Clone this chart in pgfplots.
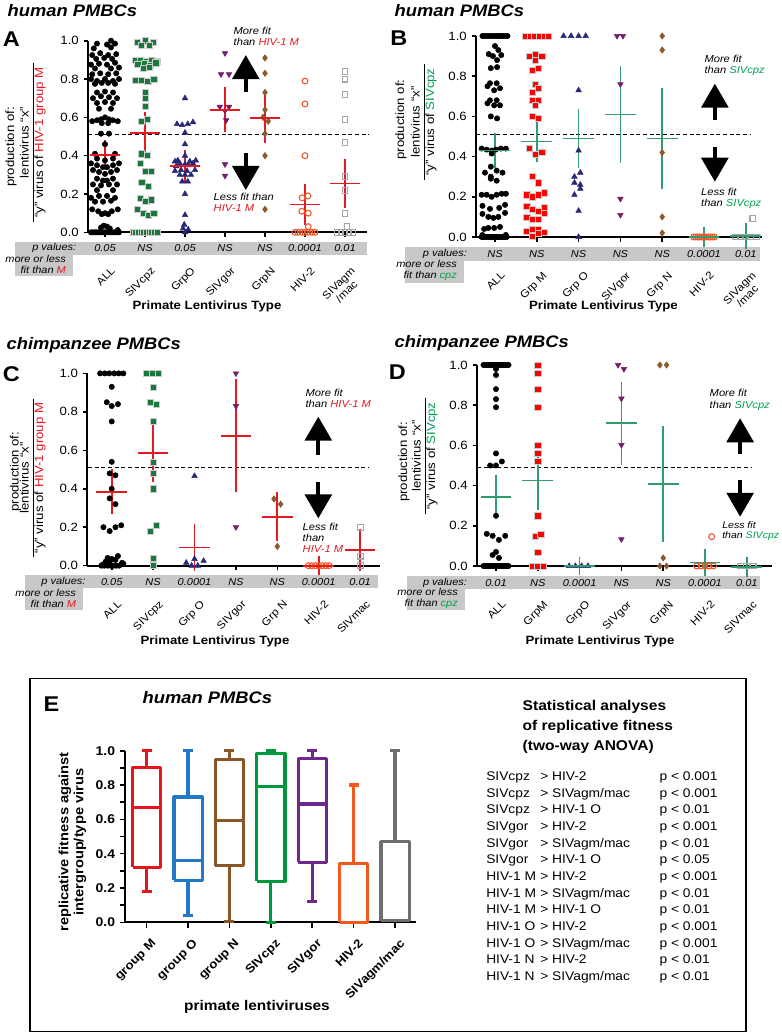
\documentclass[border=0pt]{standalone}
\usepackage{fontspec}
\setmainfont{Liberation Sans}[FakeStretch=1.1]
\usepackage{pgfplots}
\pgfplotsset{compat=1.18}
\usetikzlibrary{arrows.meta}

\definecolor{hred}{RGB}{230,25,35}
\definecolor{cpzgreen}{RGB}{0,160,80}
\definecolor{sqgreen}{RGB}{25,120,60}
\definecolor{navy}{RGB}{40,40,120}
\definecolor{purp}{RGB}{115,30,105}
\definecolor{brn}{RGB}{140,90,45}
\definecolor{oran}{RGB}{240,85,40}
\definecolor{mgreen}{RGB}{50,155,110}
\definecolor{band}{RGB}{200,200,200}
\definecolor{bred}{RGB}{230,20,30}
\definecolor{bblue}{RGB}{35,120,200}
\definecolor{bbrown}{RGB}{140,85,40}
\definecolor{bgreen}{RGB}{0,150,60}
\definecolor{bpurple}{RGB}{110,40,140}
\definecolor{borange}{RGB}{240,90,30}
\definecolor{bgray}{RGB}{110,110,110}

\tikzset{bigarrow/.style={line width=2.8pt, -{Triangle[width=20pt,length=18pt]}}}
\pgfplotsset{
  panel/.style={
    clip=false, anchor=origin,
    axis lines=left, axis line style={-, line width=1.5pt},
    ymin=0, ymax=1, xtick={0,1,2,3,4,5,6}, ytick={0,0.2,0.4,0.6,0.8,1.0},
    tick align=outside, major tick length=3.5pt,
    tick style={black, line width=1.2pt},
    /pgf/number format/fixed, /pgf/number format/fixed zerofill,
    /pgf/number format/precision=1, /pgf/number format/assume math mode=true,
    yticklabel style={font=\fontsize{9}{10}\selectfont},
    xticklabel style={font=\fontsize{8}{8.5}\selectfont, align=center, xshift=4pt, yshift=-17pt, rotate=45, anchor=north east},
  },
  dots/.style={only marks, mark=*, mark size=2pt, mark options={fill=black, draw=black}},
  gsq/.style={only marks, mark=square*, mark size=2.3pt, mark options={fill=sqgreen, draw=gray!40, line width=0.4pt}},
  rsq/.style={only marks, mark=square*, mark size=2.3pt, mark options={fill=red, draw=gray!40, line width=0.4pt}},
  tri/.style={only marks, mark=triangle*, mark size=2.4pt, mark options={fill=navy, draw=navy}},
  dtri/.style={only marks, mark=triangle*, mark size=2.4pt, mark options={fill=purp, draw=purp, rotate=180}},
  dia/.style={only marks, mark=diamond*, mark size=2.4pt, mark options={fill=brn, draw=brn}},
  ocirc/.style={only marks, mark=o, mark size=2.2pt, mark options={draw=oran, line width=0.8pt}},
  osq/.style={only marks, mark=square, mark size=2.2pt, mark options={draw=gray!70, line width=0.8pt}},
  meanbar/.style={only marks, mark=-, mark size=11.5pt, mark options={#1, line width=1.3pt},
    error bars/.cd, y dir=both, y explicit, error bar style={#1, line width=1.3pt},
    error mark=-, error mark options={#1, line width=1.3pt, mark size=7pt}},
  dline/.style={black, line width=0.8pt, dash pattern=on 3pt off 2pt},
  bx/.style={#1, line width=2.4pt, line join=round, line cap=butt, mark=none},
}
\newcommand{\annfont}{\itshape\fontsize{7.6}{8.4}\selectfont}
\newcommand{\pfont}{\itshape\fontsize{7.5}{8.5}\selectfont}

\begin{document}
\begin{tikzpicture}
\useasboundingbox (0,0) rectangle (586.5pt,774.75pt);

% ---------------- titles & letters ----------------
\node[anchor=west, font=\bfseries\itshape\fontsize{12.5}{14}\selectfont] at (2.25pt,766.9pt) {human PMBCs};
\node[font=\bfseries\fontsize{16}{18}\selectfont] at (8.6pt,745.5pt) {A};
\node[anchor=west, font=\bfseries\itshape\fontsize{12.5}{14}\selectfont] at (292.5pt,766.9pt) {human PMBCs};
\node[font=\bfseries\fontsize{16}{18}\selectfont] at (299.2pt,745.9pt) {B};
\node[anchor=west, font=\bfseries\itshape\fontsize{12.5}{14}\selectfont] at (1.5pt,516pt) {chimpanzee PMBCs};
\node[font=\bfseries\fontsize{16}{18}\selectfont] at (8.6pt,493.9pt) {C};
\node[anchor=west, font=\bfseries\itshape\fontsize{12.5}{14}\selectfont] at (292.5pt,517.3pt) {chimpanzee PMBCs};
\node[font=\bfseries\fontsize{16}{18}\selectfont] at (298.1pt,495.4pt) {D};

% x labels
\node[font=\bfseries\fontsize{9}{10}\selectfont] at (155.25pt,544.7pt) {Primate Lentivirus Type};
\node[font=\bfseries\fontsize{9}{10}\selectfont] at (452.6pt,544.7pt) {Primate Lentivirus Type};
\node[font=\bfseries\fontsize{9}{10}\selectfont] at (161.25pt,293.5pt) {Primate Lentivirus Type};
\node[font=\bfseries\fontsize{9}{10}\selectfont] at (450pt,293.5pt) {Primate Lentivirus Type};

% y labels
\node[rotate=90, font=\fontsize{9}{10}\selectfont] at (8.25pt,664.5pt) {production of:};
\node[rotate=90, font=\fontsize{9}{10.5}\selectfont, inner sep=0pt] at (24.75pt,667.9pt) {\begin{tabular}{@{\hspace{3pt}}c@{\hspace{3pt}}}lentivirus ``x''\\\hline ``y'' virus of \textcolor{hred}{HIV-1 group M}\end{tabular}};
\node[rotate=90, font=\fontsize{9}{10}\selectfont] at (300.75pt,685.1pt) {production of:};
\node[rotate=90, font=\fontsize{9}{10.5}\selectfont, inner sep=0pt] at (318pt,683.25pt) {\begin{tabular}{@{\hspace{3pt}}c@{\hspace{3pt}}}lentivirus ``x''\\\hline ``y'' virus of \textcolor{cpzgreen}{SIVcpz}\end{tabular}};
\node[rotate=90, font=\fontsize{9}{10}\selectfont] at (11.6pt,421pt) {production of:};
\node[rotate=90, font=\fontsize{9}{10.5}\selectfont, inner sep=0pt] at (24.75pt,416.25pt) {\begin{tabular}{@{\hspace{3pt}}c@{\hspace{3pt}}}lentivirus ``x''\\\hline ``y'' virus of \textcolor{hred}{HIV-1 group M}\end{tabular}};
\node[rotate=90, font=\fontsize{9}{10}\selectfont] at (303pt,428.25pt) {production of:};
\node[rotate=90, font=\fontsize{9}{10.5}\selectfont, inner sep=0pt] at (318.75pt,432.75pt) {\begin{tabular}{@{\hspace{3pt}}c@{\hspace{3pt}}}lentivirus ``x''\\\hline ``y'' virus of \textcolor{cpzgreen}{SIVcpz}\end{tabular}};

% ================= Panel A =================
\begin{axis}[panel, at={(78.75pt,600.5pt)}, x=30pt, y=143.7pt, xmin=-0.42, xmax=6.54,
  xticklabels={ALL, SIVcpz, GrpO, SIVgor, GrpN, HIV-2, {SIVagm\\/mac}}]
\fill[band] (axis cs:-2.25,-0.049) rectangle (axis cs:6.55,-0.118);
\fill[band] (axis cs:-2.25,-0.118) rectangle (axis cs:-0.8,-0.228);
\node[anchor=east, font=\pfont] at (axis cs:-0.6,-0.0835) {p values:};
\node[anchor=east, align=right, font=\itshape\fontsize{7.5}{8.2}\selectfont] at (axis cs:-0.86,-0.169) {more or less\\fit than \textcolor{hred}{M}};
\node[font=\pfont] at (axis cs:0,-0.0835) {0.05};
\node[font=\pfont] at (axis cs:1,-0.0835) {NS};
\node[font=\pfont] at (axis cs:2,-0.0835) {0.05};
\node[font=\pfont] at (axis cs:3,-0.0835) {NS};
\node[font=\pfont] at (axis cs:4,-0.0835) {NS};
\node[font=\pfont] at (axis cs:5,-0.0835) {0.0001};
\node[font=\pfont] at (axis cs:6,-0.0835) {0.01};
\addplot[dots] coordinates {
(0.15,1.0)(-0.2,0.985)(0.05,0.98)(0.25,0.985)(-0.28,0.96)(0.15,0.965)
(-0.32,0.925)(-0.12,0.935)(0.08,0.925)(0.28,0.93)(-0.22,0.905)(-0.02,0.91)(0.18,0.905)
(-0.35,0.875)(-0.15,0.88)(0.05,0.875)(0.25,0.885)(-0.25,0.855)(0.15,0.855)(0.35,0.86)
(-0.32,0.825)(-0.12,0.83)(0.08,0.825)(0.28,0.83)(-0.35,0.80)(-0.2,0.79)(0.0,0.80)(0.2,0.79)(0.35,0.80)
(-0.25,0.775)(-0.08,0.78)(0.08,0.78)(0.25,0.775)(-0.2,0.73)(0.0,0.735)(0.2,0.73)
(-0.3,0.70)(-0.1,0.71)(0.1,0.705)(0.3,0.70)(-0.2,0.675)(0.0,0.68)(0.2,0.675)(-0.15,0.645)(0.15,0.645)
(-0.32,0.58)(-0.2,0.585)(-0.1,0.59)(0.0,0.60)(0.1,0.59)(0.2,0.585)(0.32,0.58)(-0.08,0.57)(0.08,0.57)
(-0.1,0.515)(0.1,0.515)(0.0,0.46)(-0.25,0.41)(0.25,0.41)(-0.2,0.385)(0.0,0.375)(0.2,0.385)
(-0.35,0.36)(-0.2,0.35)(-0.05,0.34)(0.05,0.34)(0.2,0.35)(0.35,0.36)
(-0.3,0.325)(-0.15,0.315)(0.0,0.305)(0.15,0.315)(0.3,0.325)
(-0.2,0.28)(0.2,0.28)(-0.05,0.27)(0.05,0.27)(-0.3,0.25)(-0.1,0.245)(0.1,0.25)(0.3,0.25)
(-0.2,0.22)(0.2,0.22)(-0.35,0.18)(-0.15,0.19)(0.05,0.19)(0.25,0.18)(-0.25,0.16)(-0.05,0.16)(0.15,0.165)
(-0.32,0.12)(-0.17,0.11)(0.0,0.10)(0.17,0.11)(0.32,0.12)(-0.08,0.095)(0.08,0.095)
(-0.1,0.025)(-0.03,0.035)(0.05,0.03)(0.12,0.02)
(-0.35,0)(-0.3,0)(-0.25,0)(-0.2,0)(-0.15,0)(-0.1,0)(-0.05,0)(0,0)(0.05,0)(0.1,0)(0.15,0)(0.2,0)(0.25,0)(0.3,0)(0.35,0)(0.32,0.012)
};
\addplot[gsq] coordinates {
(1.0,1.0)(0.8,0.99)(1.2,0.99)(0.9,0.975)(1.1,0.975)
(0.75,0.90)(0.88,0.90)(1.03,0.89)(1.17,0.90)(1.3,0.895)(0.82,0.875)(0.98,0.88)(1.13,0.87)(1.27,0.885)
(0.95,0.855)(1.1,0.86)(0.75,0.795)(0.9,0.795)(1.07,0.79)(1.22,0.80)
(1.0,0.73)(1.0,0.70)(1.0,0.66)(0.9,0.58)(1.05,0.59)(0.9,0.41)(1.05,0.40)
(0.88,0.36)(1.0,0.32)(1.15,0.32)(0.92,0.26)(1.08,0.24)(0.88,0.18)(1.02,0.16)(1.15,0.17)
(0.8,0.12)(0.95,0.10)(1.08,0.09)(1.22,0.10)
(0.7,0)(0.767,0)(0.833,0)(0.9,0)(0.967,0)(1.033,0)(1.1,0)(1.167,0)(1.233,0)(1.3,0)
};
\addplot[tri] coordinates {
(2,0.70)(1.8,0.565)(1.93,0.56)(2.07,0.565)(2.2,0.575)(2,0.52)(2,0.46)(2,0.40)
(1.75,0.37)(1.82,0.375)(2.12,0.37)(2.27,0.375)(1.87,0.36)(2,0.355)(2.2,0.36)(1.78,0.345)(2.08,0.35)
(1.75,0.32)(1.9,0.325)(2.05,0.32)(2.25,0.325)(1.87,0.30)(2,0.30)(2.15,0.30)(1.93,0.265)(2.07,0.265)
(2,0.20)(2,0.09)(1.98,0.04)(1.95,0.02)(2.08,0.015)(2,0.0)
};
\addplot[dtri] coordinates {(3,0.935)(2.9,0.825)(3.1,0.825)(2.87,0.655)(3.1,0.655)(3,0.635)(3.03,0.585)(3,0.355)(3,0.295)};
\addplot[dia] coordinates {(4,0.91)(4,0.83)(4,0.73)(4,0.64)(3.95,0.60)(4.08,0.58)(4,0.515)(4,0.40)(4,0.12)};
\addplot[ocirc] coordinates {(5,0.79)(5,0.67)(5,0.40)(4.93,0.18)(5.07,0.19)(4.92,0.11)(5.08,0.10)(5.08,0.03)
(4.75,0)(4.83,0)(4.92,0)(5,0)(5.08,0)(5.17,0)(5.25,0)};
\addplot[osq] coordinates {(6,0.84)(6,0.80)(6,0.72)(6,0.59)(6,0.47)(6,0.29)(6,0.22)(6,0.10)(6.05,0.03)
(5.8,0)(5.9,0)(6,0)(6.1,0)(6.2,0)};
\addplot[dline] coordinates {(-0.42,0.513)(6.6,0.513)};
\addplot[meanbar=hred] coordinates {(0,0.405)+-(0,0.0275)(1,0.52)+-(0,0.057)(2,0.345)+-(0,0.035)(3,0.64)+-(0,0.07)(4,0.595)+-(0,0.078)(5,0.145)+-(0,0.06)(6,0.255)+-(0,0.08)};
\draw[bigarrow] (axis cs:3.52,0.734) -- (axis cs:3.52,0.925);
\draw[bigarrow] (axis cs:3.52,0.412) -- (axis cs:3.52,0.221);
\node[anchor=west, align=left, font=\annfont] at (axis cs:3.1,1.023) {More fit\\than \textcolor{hred}{HIV-1 M}};
\node[anchor=west, align=left, font=\annfont] at (axis cs:2.6,0.155) {Less fit than\\\textcolor{hred}{HIV-1 M}};
\end{axis}

% ================= Panel B =================
\begin{axis}[panel, at={(371.25pt,597pt)}, x=31.35pt, y=150.75pt, xmin=-0.45, xmax=6.38,
  xticklabels={ALL, Grp M, Grp O, SIVgor, Grp N, HIV-2, {SIVagm\\/mac}}]
\fill[band] (axis cs:-2.15,-0.048) rectangle (axis cs:6.34,-0.118);
\fill[band] (axis cs:-2.15,-0.118) rectangle (axis cs:-0.74,-0.229);
\node[anchor=east, font=\pfont] at (axis cs:-0.56,-0.083) {p values:};
\node[anchor=east, align=right, font=\itshape\fontsize{7.5}{8.2}\selectfont] at (axis cs:-0.8,-0.166) {more or less\\fit than \textcolor{cpzgreen}{cpz}};
\node[font=\pfont] at (axis cs:0,-0.083) {NS};
\node[font=\pfont] at (axis cs:1,-0.083) {NS};
\node[font=\pfont] at (axis cs:2,-0.083) {NS};
\node[font=\pfont] at (axis cs:3,-0.083) {NS};
\node[font=\pfont] at (axis cs:4,-0.083) {NS};
\node[font=\pfont] at (axis cs:5,-0.083) {0.0001};
\node[font=\pfont] at (axis cs:6,-0.083) {0.01};
\addplot[dots] coordinates {
(-0.3,1)(-0.25,1)(-0.2,1)(-0.15,1)(-0.1,1)(-0.05,1)(0,1)(0.05,1)(0.1,1)(0.15,1)(0.2,1)(0.25,1)(0.3,1)
(0.0,0.95)(0.08,0.93)(-0.15,0.91)(-0.05,0.90)(0.15,0.905)(0.05,0.88)(-0.1,0.84)(0.05,0.845)
(-0.12,0.765)(0.04,0.765)(-0.18,0.75)(0.12,0.74)(-0.02,0.73)
(-0.12,0.68)(0.04,0.68)(-0.18,0.665)(-0.02,0.655)(0.12,0.655)(-0.1,0.60)(0.05,0.59)
(-0.32,0.44)(-0.2,0.435)(-0.08,0.43)(0.02,0.435)(0.14,0.44)(0.26,0.44)(-0.08,0.415)
(-0.1,0.35)(-0.24,0.32)(0.04,0.33)(0.18,0.32)(-0.1,0.30)(-0.1,0.29)(0.04,0.28)
(-0.32,0.21)(-0.2,0.21)(-0.08,0.20)(0.04,0.21)(0.16,0.215)(0.26,0.215)
(-0.3,0.155)(-0.12,0.14)(0.1,0.145)(0.24,0.16)
(-0.3,0.115)(-0.16,0.10)(-0.04,0.095)(0.08,0.10)(0.24,0.12)
(-0.26,0.04)(-0.16,0.045)(-0.02,0.045)(0.12,0.05)
(-0.32,0)(-0.28,0)(-0.24,0)(-0.2,0)(-0.16,0)(-0.12,0)(-0.08,0)(-0.04,0)(0,0)(0.04,0)(0.08,0)(0.12,0)(0.16,0)(0.2,0)(0.24,0)(0.28,0)(-0.3,0.01)(0.26,0.01)
};
\addplot[rsq] coordinates {
(0.73,1)(0.84,1)(0.95,1)(1.06,1)(1.17,1)(1.27,1)
(0.82,0.90)(0.97,0.91)(1.12,0.90)(0.97,0.88)(0.9,0.83)(1.04,0.84)(0.97,0.76)(0.9,0.72)(1.04,0.74)
(0.9,0.68)(1.04,0.68)(0.97,0.655)(0.9,0.60)(1.04,0.59)(0.82,0.44)(1.12,0.42)(0.97,0.41)(0.9,0.30)(1.04,0.27)
(0.76,0.21)(0.9,0.20)(1.04,0.21)(1.18,0.22)(0.76,0.155)(0.9,0.14)(1.04,0.13)(1.18,0.15)
(0.76,0.10)(0.9,0.09)(1.04,0.09)(1.18,0.12)(0.76,0.03)(0.9,0.04)(1.04,0.04)(1.18,0.025)(0.9,0.005)(1.04,0.02)
};
\addplot[tri] coordinates {(1.64,1)(1.82,1)(2,1)(2.17,1)(2,0.73)(2,0.43)(2.04,0.32)(1.9,0.30)(1.9,0.27)(2.04,0.26)(2.04,0.24)(1.9,0.21)(2,0.13)(2,0.0)};
\addplot[dtri] coordinates {(2.92,1)(3.06,1)(3,0.76)(3,0.19)(3,0.11)};
\addplot[dia] coordinates {(4,1)(4,0.93)(4,0.42)(4,0.10)(4,0.02)};
\addplot[ocirc] coordinates {(4.75,0)(4.8,0)(4.85,0)(4.9,0)(4.95,0)(5,0)(5.05,0)(5.1,0)(5.15,0)(5.2,0)(5.25,0)};
\addplot[osq] coordinates {(6.17,0.093)(5.75,0)(5.88,0)(6,0)(6.12,0)(6.25,0)};
\addplot[dline] coordinates {(-0.45,0.512)(6.1,0.512)};
\addplot[meanbar=mgreen] coordinates {(0,0.43)+-(0,0.04)(1,0.475)+-(0,0.055)(2,0.49)+-(0,0.1)(3,0.61)+-(0,0.195)(4,0.49)+-(0,0.205)(5,0.0)+-(0,0.003)(6,0.005)+-(0,0.02)};
\draw[bigarrow] (axis cs:5.26,0.581) -- (axis cs:5.26,0.763);
\draw[bigarrow] (axis cs:5.26,0.449) -- (axis cs:5.26,0.275);
\node[anchor=west, align=left, font=\annfont] at (axis cs:4.9,0.853) {More fit\\than \textcolor{cpzgreen}{SIVcpz}};
\node[anchor=west, align=left, font=\annfont] at (axis cs:4.82,0.194) {Less fit\\than \textcolor{cpzgreen}{SIVcpz}};
\end{axis}

% ================= Panel C =================
\begin{axis}[panel, at={(83.8pt,350.5pt)}, x=31.05pt, y=144.2pt, xmin=-0.59, xmax=6.48,
  xticklabels={ALL, SIVcpz, Grp O, SIVgor, Grp N, HIV-2, SIVmac}]
\fill[band] (axis cs:-2.09,-0.048) rectangle (axis cs:6.43,-0.118);
\fill[band] (axis cs:-2.09,-0.118) rectangle (axis cs:-0.69,-0.23);
\node[anchor=east, font=\pfont] at (axis cs:-0.52,-0.085) {p values:};
\node[anchor=east, align=right, font=\itshape\fontsize{7.5}{8.2}\selectfont] at (axis cs:-0.75,-0.17) {more or less\\fit than \textcolor{hred}{M}};
\node[font=\pfont] at (axis cs:0,-0.085) {0.05};
\node[font=\pfont] at (axis cs:1,-0.085) {NS};
\node[font=\pfont] at (axis cs:2,-0.085) {0.0001};
\node[font=\pfont] at (axis cs:3,-0.085) {NS};
\node[font=\pfont] at (axis cs:4,-0.085) {NS};
\node[font=\pfont] at (axis cs:5,-0.085) {0.0001};
\node[font=\pfont] at (axis cs:6,-0.085) {0.01};
\addplot[dots] coordinates {
(-0.28,1)(-0.17,1)(-0.06,1)(0.06,1)(0.17,1)(0.28,1)
(0,0.93)(-0.12,0.85)(0.0,0.83)(0.15,0.84)(0,0.75)(0,0.54)(-0.05,0.48)(0.09,0.47)(0,0.40)(-0.05,0.35)(0.09,0.32)
(-0.2,0.20)(-0.05,0.18)(0.09,0.20)(0.23,0.21)
(-0.1,0.04)(0.0,0.035)(0.15,0.05)(0.09,0.03)(-0.05,0.02)(-0.15,0.02)(0.25,0.015)
(-0.25,0)(-0.18,0)(-0.1,0)(-0.03,0)(0.04,0)(0.11,0)(0.18,0)(0.28,0.01)(-0.22,0.005)
};
\addplot[gsq] coordinates {(0.83,1)(0.98,1)(1.13,1)(1,0.93)(0.93,0.85)(1.07,0.84)(1,0.75)(1,0.54)(1,0.48)(1,0.40)(0.93,0.18)(1.07,0.21)(1,0.04)(1,0.0)};
\addplot[tri] coordinates {(2,0.466)(1.8,0.015)(2.0,0.035)(2.22,0.025)(1.93,0.0)(2.08,0.0)};
\addplot[dtri] coordinates {(3,1.0)(3,0.83)(3,0.20)};
\addplot[dia] coordinates {(3.92,0.347)(4.08,0.32)(4,0.10)};
\addplot[ocirc] coordinates {(4.75,0)(4.83,0)(4.92,0)(5,0)(5.08,0)(5.17,0)(5.25,0)};
\addplot[osq] coordinates {(6,0.198)(6,0.05)(6,0.0)};
\addplot[dline] coordinates {(-0.57,0.51)(6.2,0.51)};
\addplot[meanbar=hred] coordinates {(0,0.385)+-(0,0.068)(1,0.585)+-(0,0.1)(2,0.095)+-(0,0.075)(3,0.675)+-(0,0.245)(4,0.255)+-(0,0.078)(5,0)+-(0,0.002)(6,0.083)+-(0,0.06)};
\draw[bigarrow] (axis cs:4.99,0.575) -- (axis cs:4.99,0.775);
\draw[bigarrow] (axis cs:4.99,0.437) -- (axis cs:4.99,0.246);
\node[anchor=west, align=left, font=\annfont] at (axis cs:4.57,0.868) {More fit\\than \textcolor{hred}{HIV-1 M}};
\node[anchor=west, align=left, font=\annfont] at (axis cs:4.5,0.146) {Less fit\\than\\\textcolor{hred}{HIV-1 M}};
\end{axis}

% ================= Panel D =================
\begin{axis}[panel, at={(372pt,350.25pt)}, x=31.35pt, y=150.75pt, xmin=-0.45, xmax=6.6,
  xticklabels={ALL, GrpM, GrpO, SIVgor, GrpN, HIV-2, SIVmac}]
\fill[band] (axis cs:-2.14,-0.05) rectangle (axis cs:6.32,-0.115);
\fill[band] (axis cs:-2.14,-0.115) rectangle (axis cs:-0.74,-0.219);
\node[anchor=east, font=\pfont] at (axis cs:-0.58,-0.083) {p values:};
\node[anchor=east, align=right, font=\itshape\fontsize{7.5}{8.2}\selectfont] at (axis cs:-0.8,-0.162) {more or less\\fit than \textcolor{cpzgreen}{cpz}};
\node[font=\pfont] at (axis cs:0,-0.083) {0.01};
\node[font=\pfont] at (axis cs:1,-0.083) {NS};
\node[font=\pfont] at (axis cs:2,-0.083) {0.0001};
\node[font=\pfont] at (axis cs:3,-0.083) {NS};
\node[font=\pfont] at (axis cs:4,-0.083) {NS};
\node[font=\pfont] at (axis cs:5,-0.083) {0.0001};
\node[font=\pfont] at (axis cs:6,-0.083) {0.01};
\addplot[dots] coordinates {
(-0.3,1)(-0.26,1)(-0.22,1)(-0.18,1)(-0.14,1)(-0.1,1)(-0.06,1)(-0.02,1)(0.02,1)(0.06,1)(0.1,1)(0.14,1)(0.18,1)(0.22,1)(0.26,1)(0.3,1)
(0,0.98)(0,0.95)(0,0.88)(0,0.83)(0,0.79)(0,0.56)(-0.14,0.50)(0,0.50)(0.14,0.52)(0,0.25)
(-0.22,0.16)(-0.08,0.15)(0.07,0.13)(0.22,0.15)(0,0.07)(-0.08,0.055)(0.07,0.04)
(-0.3,0)(-0.26,0)(-0.22,0)(-0.18,0)(-0.14,0)(-0.1,0)(-0.06,0)(-0.02,0)(0.02,0)(0.06,0)(0.1,0)(0.14,0)(0.18,0)(0.22,0)(0.26,0)(0.3,0)
};
\addplot[rsq] coordinates {(1,1.0)(1,0.96)(1,0.88)(1,0.79)(1,0.60)(1,0.56)(1,0.52)(1,0.25)(0.93,0.15)(1.07,0.16)(1,0.07)(0.86,0)(1,0)(1.14,0)};
\addplot[tri] coordinates {(1.75,0)(1.9,0)(2.05,0)(2.2,0)};
\addplot[dtri] coordinates {(2.92,1.0)(3.06,0.98)(3,0.833)(3,0.602)(3,0.133)};
\addplot[dia] coordinates {(3.92,1.0)(4.08,1.0)(4,0.04)(3.92,0)(4.08,0)};
\addplot[ocirc] coordinates {(4.8,0)(4.9,0)(5,0)(5.1,0)(5.2,0)};
\addplot[osq] coordinates {(5.85,0)(6,0)(6.15,0)};
\addplot[ocirc] coordinates {(5.16,0.146)};
\addplot[dline] coordinates {(-0.45,0.489)(6.1,0.489)};
\addplot[meanbar=mgreen] coordinates {(0,0.345)+-(0,0.063)(1,0.425)+-(0,0.1)(2,0)+-(0,0.0)(3,0.71)+-(0,0.16)(4,0.408)+-(0,0.242)(5,0.018)+-(0,0.02)(6,-0.005)+-(0,0.005)};
\draw[bigarrow] (axis cs:5.84,0.557) -- (axis cs:5.84,0.735);
\draw[bigarrow] (axis cs:5.84,0.428) -- (axis cs:5.84,0.245);
\node[anchor=west, align=left, font=\annfont] at (axis cs:5.0,0.826) {More fit\\than \textcolor{cpzgreen}{SIVcpz}};
\node[anchor=west, align=left, font=\itshape\fontsize{7.2}{8.2}\selectfont] at (axis cs:5.3,0.174) {Less fit\\than \textcolor{cpzgreen}{SIVcpz}};
\end{axis}

% ================= Panel E =================
\draw[line width=1pt] (22.5pt,1pt) rectangle (559.5pt,266pt);
\node[font=\bfseries\fontsize{16}{18}\selectfont] at (38.6pt,246.75pt) {E};
\node[anchor=west, font=\bfseries\itshape\fontsize{12.5}{14}\selectfont] at (103.5pt,251.6pt) {human PMBCs};
\node[rotate=90, align=center, font=\bfseries\fontsize{10}{11.25}\selectfont] at (54.4pt,143.25pt) {replicative fitness against\\intergroup/type virus};
\node[font=\bfseries\fontsize{10.5}{12}\selectfont] at (192.75pt,19.7pt) {primate lentiviruses};

\begin{axis}[clip=false, anchor=origin, at={(110pt,83pt)}, x=31.05pt, y=128.7pt, xmin=-0.52, xmax=6.5, ymin=0, ymax=1,
  axis lines=left, axis line style={-, line width=1.6pt},
  xtick={0,1,2,3,4,5,6}, xticklabels={group M, group O, group N, SIVcpz, SIVgor, HIV-2, SIVagm/mac},
  ytick={0,0.2,0.4,0.6,0.8,1.0}, minor ytick={0.1,0.3,0.5,0.7,0.9},
  tick align=outside, major tick length=4pt, minor tick length=4pt,
  tick style={black, line width=1.2pt},
  /pgf/number format/fixed, /pgf/number format/fixed zerofill,
  /pgf/number format/precision=1, /pgf/number format/assume math mode=true,
  yticklabel style={font=\bfseries\fontsize{9.5}{10}\selectfont},
  xticklabel style={font=\bfseries\fontsize{9}{10}\selectfont, xshift=3pt, yshift=-3pt, rotate=45, anchor=north east},
  unbounded coords=jump]
% group M
\addplot[bx=bred] coordinates {(-0.34,0.32)(0.34,0.32)(0.34,0.90)(-0.34,0.90)(-0.34,0.32)(0,nan)(-0.34,0.67)(0.34,0.67)(0,nan)(0,0.90)(0,1.0)(0,nan)(-0.12,1.0)(0.12,1.0)(0,nan)(0,0.32)(0,0.18)(0,nan)(-0.12,0.18)(0.12,0.18)};
% group O
\addplot[bx=bblue] coordinates {(0.66,0.245)(1.34,0.245)(1.34,0.73)(0.66,0.73)(0.66,0.245)(1,nan)(0.66,0.36)(1.34,0.36)(1,nan)(1,0.73)(1,1.0)(1,nan)(0.88,1.0)(1.12,1.0)(1,nan)(1,0.245)(1,0.04)(1,nan)(0.88,0.04)(1.12,0.04)};
% group N
\addplot[bx=bbrown] coordinates {(1.66,0.33)(2.34,0.33)(2.34,0.95)(1.66,0.95)(1.66,0.33)(2,nan)(1.66,0.595)(2.34,0.595)(2,nan)(2,0.95)(2,1.0)(2,nan)(1.88,1.0)(2.12,1.0)(2,nan)(2,0.33)(2,0.005)(2,nan)(1.88,0.005)(2.12,0.005)};
% SIVcpz
\addplot[bx=bgreen] coordinates {(2.66,0.24)(3.34,0.24)(3.34,0.985)(2.66,0.985)(2.66,0.24)(3,nan)(2.66,0.79)(3.34,0.79)(3,nan)(3,0.985)(3,1.0)(3,nan)(2.88,1.0)(3.12,1.0)(3,nan)(3,0.24)(3,0.0)(3,nan)(2.88,0.0)(3.12,0.0)};
% SIVgor
\addplot[bx=bpurple] coordinates {(3.66,0.35)(4.34,0.35)(4.34,0.955)(3.66,0.955)(3.66,0.35)(4,nan)(3.66,0.69)(4.34,0.69)(4,nan)(4,0.955)(4,1.0)(4,nan)(3.88,1.0)(4.12,1.0)(4,nan)(4,0.35)(4,0.12)(4,nan)(3.88,0.12)(4.12,0.12)};
% HIV-2
\addplot[bx=borange] coordinates {(4.66,0.0)(5.34,0.0)(5.34,0.345)(4.66,0.345)(4.66,0.0)(5,nan)(5,0.345)(5,0.80)(5,nan)(4.88,0.80)(5.12,0.80)};
% SIVagm/mac
\addplot[bx=bgray] coordinates {(5.66,0.01)(6.34,0.01)(6.34,0.47)(5.66,0.47)(5.66,0.01)(6,nan)(6,0.47)(6,1.0)(6,nan)(5.88,1.0)(6.12,1.0)};
\end{axis}

% statistics text
\node[anchor=west, align=left, font=\bfseries\fontsize{10.6}{15}\selectfont] at (388.5pt,229.7pt) {Statistical analyses\\of replicative fitness\\(two-way ANOVA)};
\node[anchor=north west, inner sep=0pt, font=\fontsize{9.4}{12.5}\selectfont] at (364.5pt,198.25pt) {%
\begin{tabular}{@{}p{40.5pt}@{}p{89.5pt}@{}l@{}}
SIVcpz & > HIV-2 & p < 0.001\\
SIVcpz & > SIVagm/mac & p < 0.001\\
SIVcpz & > HIV-1 O & p < 0.01\\
SIVgor & > HIV-2 & p < 0.001\\
SIVgor & > SIVagm/mac & p < 0.01\\
SIVgor & > HIV-1 O & p < 0.05\\
HIV-1 M & > HIV-2 & p < 0.001\\
HIV-1 M & > SIVagm/mac & p < 0.01\\
HIV-1 M & > HIV-1 O & p < 0.01\\
HIV-1 O & > HIV-2 & p < 0.001\\
HIV-1 O & > SIVagm/mac & p < 0.001\\
HIV-1 N & > HIV-2 & p < 0.01\\
HIV-1 N & > SIVagm/mac & p < 0.01
\end{tabular}};
\end{tikzpicture}
\end{document}
